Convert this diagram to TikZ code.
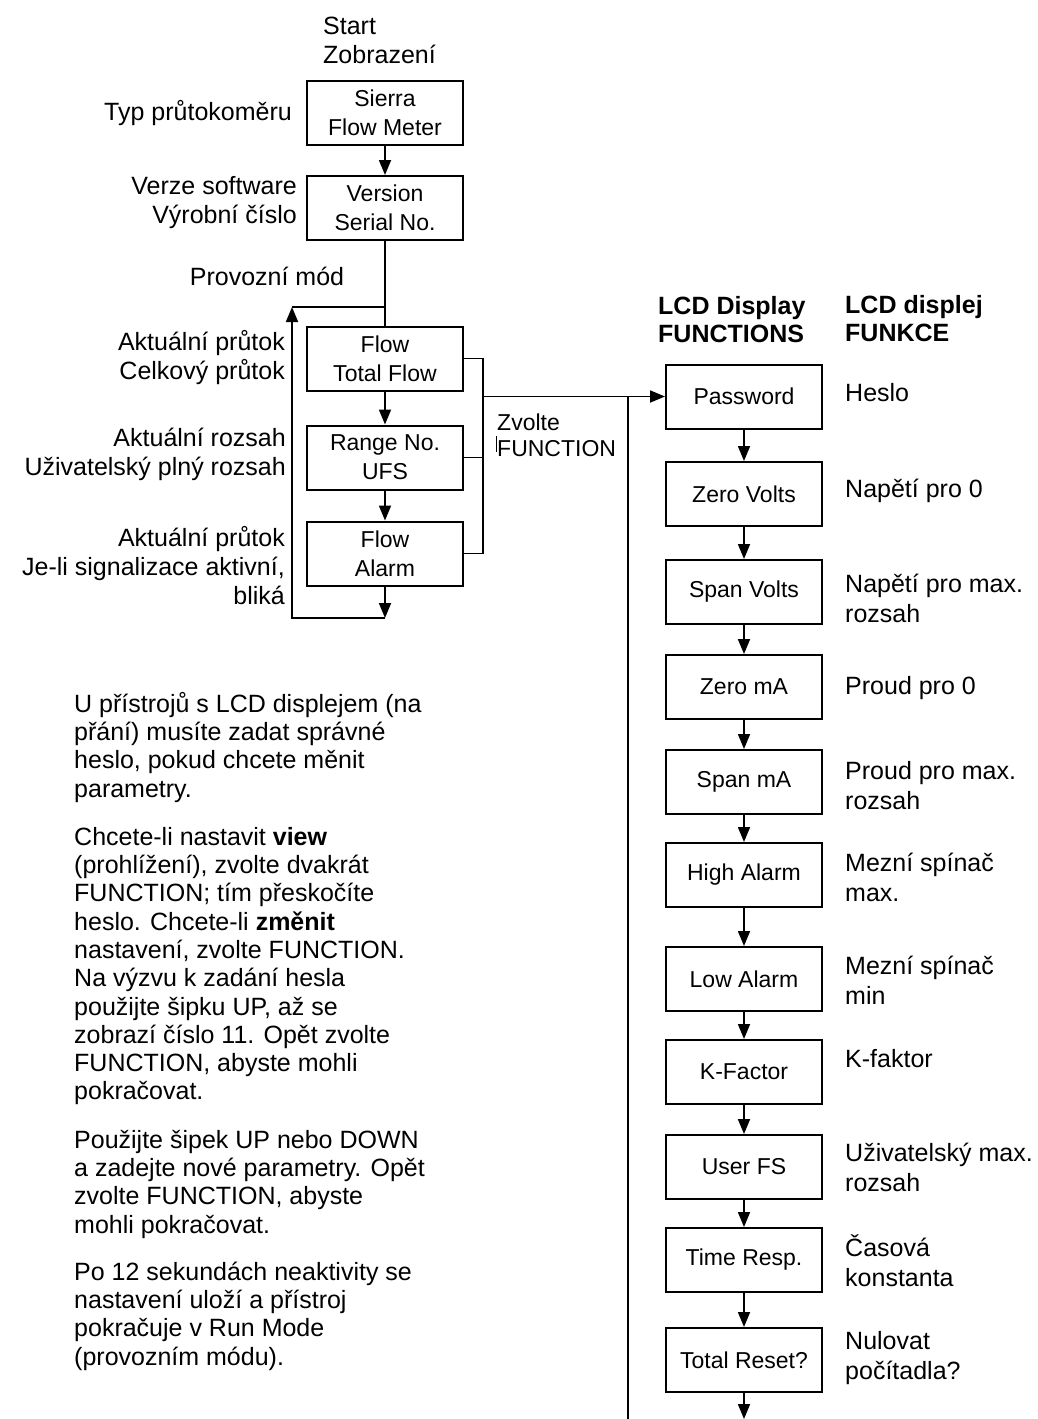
\documentclass[tikz,border=0pt]{standalone}
\usepackage{fontspec}
\setmainfont{Liberation Sans}
\usetikzlibrary{arrows.meta}
\newcommand\firststrut{\rule{0pt}{21pt}}
\begin{document}
\begin{tikzpicture}[x=1pt,y=-1pt,
  box/.style={draw, line width=2pt, minimum width=156pt, minimum height=64pt, align=center, font=\fontsize{23}{29}\selectfont, inner sep=0pt},
  lab/.style={align=right, font=\fontsize{25}{29}\selectfont, inner sep=0pt},
  rlab/.style={align=left, anchor=west, font=\fontsize{25}{30}\selectfont, inner sep=0pt},
  para/.style={align=left, anchor=north west, font=\fontsize{25}{28.3}\selectfont, inner sep=0pt},
  head/.style={align=left, anchor=west, font=\bfseries\fontsize{25}{28}\selectfont, inner sep=0pt},
  conn/.style={line width=1.8pt},
  arr/.style={conn, -{Triangle[length=15pt,width=12pt]}},
]
\fill[white] (0,0) rectangle (1038,1419);
\useasboundingbox (0,0) rectangle (1038,1419);

% left column
\node[lab, align=left, anchor=west] (start) at (323,40) {Start\\Zobrazení};
\node[box] (sierra) at (385,112.5) {Sierra\\Flow Meter};
\node[box] (version) at (385,208) {Version\\Serial No.};
\node[box] (flow) at (385,358.5) {Flow\\Total Flow};
\node[box] (range) at (385,457.5) {Range No.\\UFS};
\node[box] (alarm) at (385,553.5) {Flow\\Alarm};

\node[lab, anchor=east] (typ) at (292,113) {Typ průtokoměru};
\node[lab, anchor=east] (verze) at (297,203) {Verze software\\Výrobní číslo};
\node[lab] (prov) at (267,276) {Provozní mód};
\node[lab, anchor=east] (l1) at (285,358) {Aktuální průtok\\Celkový průtok};
\node[lab, anchor=east] (l2) at (286,454) {Aktuální rozsah\\Uživatelský plný rozsah};
\node[lab, anchor=east] (l3) at (285,566) {Aktuální průtok\\Je-li signalizace aktivní,\\bliká};

\coordinate (lb) at (385,618);
\coordinate (ll) at (292,618);
\coordinate (lt) at (292,307);
\coordinate (ltr) at (385,307);

\draw[arr] (sierra) -- (version);
\draw[conn] (version) -- (flow);
\draw[arr] (flow) -- (range);
\draw[arr] (range) -- (alarm);
\draw[arr] (alarm) -- (lb);
\draw[arr] (lb) -- (ll) -- (lt);
\draw[conn] (lt) -- (ltr);

% bracket
\coordinate (bt) at (483,358.5);
\coordinate (bm) at (483,457.5);
\coordinate (bb) at (483,553.5);
\coordinate (bj) at (483,396.5);
\coordinate (vtop) at (628,396.5);
\coordinate (vbot) at (628,1419);
\draw[conn] (flow.east) -- (bt) -- (bb) -- (alarm.east);
\draw[conn] (range.east) -- (bm);

\node[anchor=west, align=left, inner sep=0pt, font=\fontsize{23}{26}\selectfont] (zvolte) at (497,435) {Zvolte\\FUNCTION};
\draw[line width=0.8pt] ([xshift=-0.5pt]zvolte.west) ++(0,1) -- ++(0,16);

% right column
\node[head] (hd1) at (658,320) {LCD Display\\FUNCTIONS};
\node[head] (hd2) at (845,319) {LCD displej\\FUNKCE};

\node[box] (pw) at (744,396.5) {Password};
\node[box] (zv) at (744,494) {Zero Volts};
\node[box] (sv) at (744,592) {Span Volts};
\node[box] (zm) at (744,687) {Zero mA};
\node[box] (sm) at (744,782) {Span mA};
\node[box] (ha) at (744,875) {High Alarm};
\node[box] (la) at (744,979) {Low Alarm};
\node[box] (kf) at (744,1072) {K-Factor};
\node[box] (uf) at (744,1167) {User FS};
\node[box] (tr) at (744,1260) {Time Resp.};
\node[box] (rs) at (744,1360) {Total Reset?};
\coordinate (rend) at (744,1419);

\draw[arr] (bj) -- (pw.west);
\draw[conn] (vtop) -- (vbot);
\draw[arr] (pw) -- (zv);
\draw[arr] (zv) -- (sv);
\draw[arr] (sv) -- (zm);
\draw[arr] (zm) -- (sm);
\draw[arr] (sm) -- (ha);
\draw[arr] (ha) -- (la);
\draw[arr] (la) -- (kf);
\draw[arr] (kf) -- (uf);
\draw[arr] (uf) -- (tr);
\draw[arr] (tr) -- (rs);
\draw[arr] (rs) -- (rend);

\node[rlab] (r1) at (845,393) {Heslo};
\node[rlab] (r2) at (845,491) {Napětí pro 0};
\node[rlab] (r3) at (845,598) {Napětí pro max.\\rozsah};
\node[rlab] (r4) at (845,688) {Proud pro 0};
\node[rlab] (r5) at (845,786) {Proud pro max.\\rozsah};
\node[rlab] (r6) at (845,877) {Mezní spínač\\max.};
\node[rlab] (r7) at (845,980) {Mezní spínač\\min};
\node[rlab] (r8) at (845,1059) {K-faktor};
\node[rlab] (r9) at (845,1167) {Uživatelský max.\\rozsah};
\node[rlab] (r10) at (845,1261) {Časová\\konstanta};
\node[rlab] (r11) at (845,1358) {Nulovat\\počítadla?};

% paragraphs
\node[para] (p1) at (74,691) {\firststrut U přístrojů s LCD displejem (na\\přání) musíte zadat správné\\heslo, pokud chcete měnit\\parametry.};
\node[para] (p2) at (74,824) {\firststrut Chcete-li nastavit \textbf{view}\\(prohlížení), zvolte dvakrát\\FUNCTION; tím přeskočíte\\heslo. Chcete-li \textbf{změnit}\\nastavení, zvolte FUNCTION.\\Na výzvu k zadání hesla\\použijte šipku UP, až se\\zobrazí číslo 11. Opět zvolte\\FUNCTION, abyste mohli\\pokračovat.};
\node[para] (p3) at (74,1127) {\firststrut Použijte šipek UP nebo DOWN\\a zadejte nové parametry. Opět\\zvolte FUNCTION, abyste\\mohli pokračovat.};
\node[para] (p4) at (74,1259) {\firststrut Po 12 sekundách neaktivity se\\nastavení uloží a přístroj\\pokračuje v Run Mode\\(provozním módu).};
\end{tikzpicture}
\end{document}
